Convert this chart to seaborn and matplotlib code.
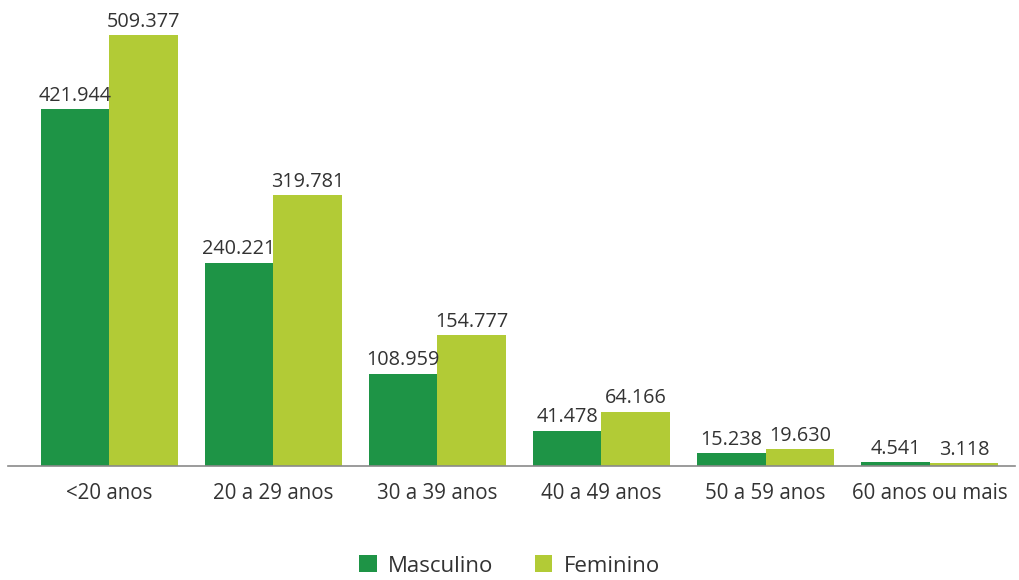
import matplotlib
matplotlib.use("Agg")
import matplotlib.pyplot as plt
import seaborn as sns
import pandas as pd

categories = ["<20 anos", "20 a 29 anos", "30 a 39 anos", "40 a 49 anos", "50 a 59 anos", "60 anos ou mais"]
masculino = [421944, 240221, 108959, 41478, 15238, 4541]
feminino = [509377, 319781, 154777, 64166, 19630, 3118]
series_names = ["Masculino", "Feminino"]
colors = ["#1E9446", "#B2CB36"]

df = pd.DataFrame({
    "faixa": categories * 2,
    "valor": masculino + feminino,
    "sexo": [series_names[0]] * len(categories) + [series_names[1]] * len(categories),
})

sns.set_theme(style="white")
plt.rcParams["font.family"] = ["Open Sans", "DejaVu Sans"]

fig = plt.figure(figsize=(10.19, 5.8), dpi=100)
ax = fig.add_axes([8 / 1019, 1 - 466 / 580, (1015 - 8) / 1019, (466 - 10) / 580])

sns.barplot(data=df, x="faixa", y="valor", hue="sexo", order=categories,
            hue_order=series_names, palette=colors, width=0.835, gap=0,
            saturation=1, ax=ax, legend=True, linewidth=0)

for cont in ax.containers:
    ax.bar_label(cont, labels=[f"{int(v):,}".replace(",", ".") for v in cont.datavalues],
                 padding=2.5, fontsize=14.3, color="#333333")

ax.set_xlim(-0.616, 5.52)
ax.set_ylim(0, 509377 * 456 / 431)
ax.set_xlabel("")
ax.set_ylabel("")
ax.set_yticks([])
for s in ["top", "right", "left"]:
    ax.spines[s].set_visible(False)
ax.spines["bottom"].set_color("#8a8a8a")
ax.spines["bottom"].set_linewidth(1.2)
ax.tick_params(axis="x", length=0, pad=12, labelsize=14.8, labelcolor="#333333")

handles, labels = ax.get_legend_handles_labels()
ax.get_legend().remove()
fig.legend(handles, labels, loc="center", bbox_to_anchor=(0.5, 1 - 566 / 580), ncol=2,
           frameon=False, fontsize=16, handlelength=0.8, handleheight=0.8,
           columnspacing=1.85, handletextpad=0.5, labelcolor="#333333")

fig.savefig("out.png", dpi=100)
